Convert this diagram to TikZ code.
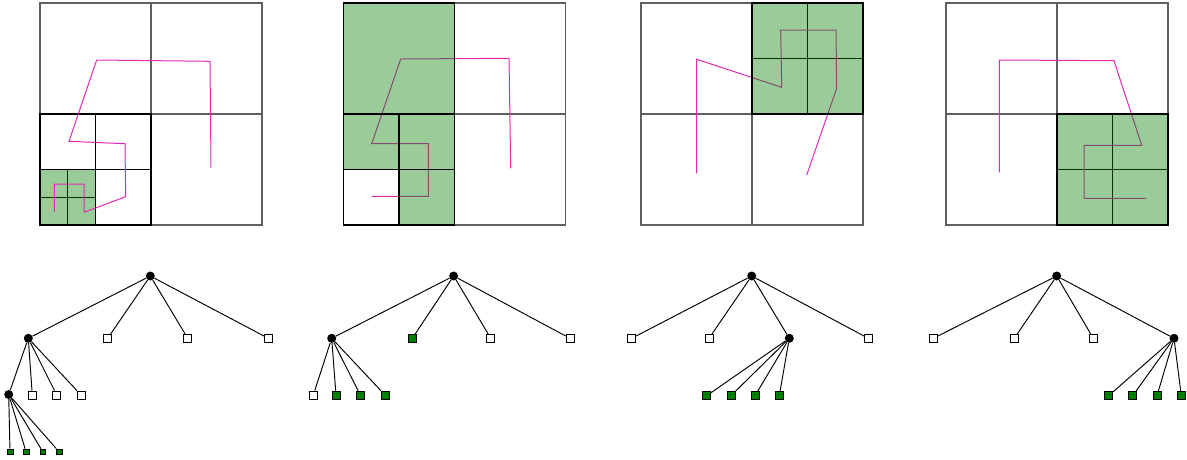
\documentclass[tikz,border=0pt]{standalone}
\definecolor{dgreen}{RGB}{0,128,0}
\definecolor{gridgray}{RGB}{95,95,95}
\definecolor{curvepink}{RGB}{228,40,184}
\tikzset{
  gridline/.style={draw=gridgray, line width=1.1pt},
  blackline/.style={draw=black, line width=1.25pt},
  greenfill/.style={fill=dgreen, fill opacity=0.4},
  curve/.style={draw=curvepink, line width=1pt, line join=miter},
  inner/.style={circle, fill=black, minimum size=9pt, inner sep=0pt},
  leaf/.style={rectangle, draw=black, fill=white, line width=0.8pt, minimum size=8pt, inner sep=0pt},
  gleaf/.style={rectangle, draw=black, fill=dgreen, line width=0.6pt, minimum size=8pt, inner sep=0pt},
  sgleaf/.style={rectangle, draw=black, fill=dgreen, line width=0.5pt, minimum size=5.5pt, inner sep=0pt},
  edge/.style={draw=black, line width=0.95pt}
}
\begin{document}
\begin{tikzpicture}[x=1pt,y=-1pt]
\useasboundingbox (0,0) rectangle (1187,459);

% ---------- Panel 1 ----------
\draw[gridline] (40,3) rectangle (262,225) (151,3) -- (151,225) (40,114) -- (262,114);
\draw[blackline] (40,114) rectangle (151,225) (95.5,114) -- (95.5,225) (40,169.5) -- (151,169.5);
\draw[blackline] (67.75,169.5) -- (67.75,225) (40,197.25) -- (95.5,197.25);
\fill[greenfill] (40,169.5) rectangle (95.5,225);
\draw[blackline] (40,169.5) rectangle (95.5,225);
\draw[curve] (54.3,211.7) -- (54.3,184) -- (84,184) -- (84,212.3) -- (125.7,196.7) -- (125,143.7) -- (69,141.3) -- (96.7,60) -- (210,61.3) -- (211,167.7);

% ---------- Panel 2 ----------
\draw[gridline] (343.5,3) rectangle (565.5,225) (454.5,3) -- (454.5,225) (343.5,114) -- (565.5,114);
\draw[blackline] (343.5,114) rectangle (454.5,225) (399,114) -- (399,225) (343.5,169.5) -- (454.5,169.5);
\draw[curve] (371.7,196.3) -- (428.3,196.3) -- (428.3,143.7) -- (371.7,143.7) -- (400.7,59) -- (509,58.3) -- (510.7,168.3);
\fill[greenfill] (343.5,3) rectangle (454.5,114) (343.5,114) rectangle (454.5,169.5) (399,169.5) rectangle (454.5,225);
\draw[blackline] (343.5,3) rectangle (454.5,114) (343.5,114) rectangle (454.5,225) (399,114) -- (399,225) (343.5,169.5) -- (454.5,169.5);

% ---------- Panel 3 ----------
\draw[gridline] (641,3) rectangle (863,225) (752,3) -- (752,225) (641,114) -- (863,114);
\draw[blackline] (807.5,3) -- (807.5,114) (752,58.5) -- (863,58.5);
\draw[curve] (696.7,173.3) -- (696.7,59.3) -- (781.7,87.3) -- (780.7,30) -- (836,30) -- (836.7,88.3) -- (806.7,175);
\fill[greenfill] (752,3) rectangle (863,114);
\draw[blackline] (752,3) rectangle (863,114);

% ---------- Panel 4 ----------
\draw[gridline] (946,3) rectangle (1168,225) (1057,3) -- (1057,225) (946,114) -- (1168,114);
\draw[blackline] (1112.5,114) -- (1112.5,225) (1057,169.5) -- (1168,169.5);
\draw[curve] (999.3,172.3) -- (999.3,60) -- (1114,60.7) -- (1141.7,145.3) -- (1084,145.3) -- (1084,198.3) -- (1146,198.3);
\fill[greenfill] (1057,114) rectangle (1168,225);
\draw[blackline] (1057,114) rectangle (1168,225);

% ---------- Tree 1 ----------
\node[inner] (r1) at (150.3,276) {};
\node[inner] (a1) at (28.3,338.3) {};
\node[leaf] (a2) at (107.7,338.3) {};
\node[leaf] (a3) at (187.7,338.3) {};
\node[leaf] (a4) at (268.3,338.3) {};
\node[inner] (b1) at (8.7,394.5) {};
\node[leaf] (b2) at (32.3,395) {};
\node[leaf] (b3) at (56.7,395) {};
\node[leaf] (b4) at (81,395) {};
\node[sgleaf] (c1) at (10,451.7) {};
\node[sgleaf] (c2) at (26,451.7) {};
\node[sgleaf] (c3) at (42.7,451.7) {};
\node[sgleaf] (c4) at (59,451.7) {};
\foreach \t in {a1,a2,a3,a4} \draw[edge] (r1) -- (\t);
\foreach \t in {b1,b2,b3,b4} \draw[edge] (a1) -- (\t);
\foreach \t in {c1,c2,c3,c4} \draw[edge] (b1) -- (\t);

% ---------- Tree 2 ----------
\node[inner] (r2) at (453.7,276) {};
\node[inner] (d1) at (331.7,338.3) {};
\node[gleaf] (d2) at (412.3,338.3) {};
\node[leaf] (d3) at (490.7,338.3) {};
\node[leaf] (d4) at (570,338.3) {};
\node[leaf] (e1) at (313.3,395) {};
\node[gleaf] (e2) at (336,395) {};
\node[gleaf] (e3) at (360.3,395) {};
\node[gleaf] (e4) at (385,395) {};
\foreach \t in {d1,d2,d3,d4} \draw[edge] (r2) -- (\t);
\foreach \t in {e1,e2,e3,e4} \draw[edge] (d1) -- (\t);

% ---------- Tree 3 ----------
\node[inner] (r3) at (751.7,276) {};
\node[leaf] (f1) at (631.7,338.3) {};
\node[leaf] (f2) at (709,338.3) {};
\node[inner] (f3) at (789.3,338.3) {};
\node[leaf] (f4) at (868.3,338.3) {};
\node[gleaf] (g1) at (706.7,395.7) {};
\node[gleaf] (g2) at (731,395.7) {};
\node[gleaf] (g3) at (755,395.7) {};
\node[gleaf] (g4) at (779.3,395.7) {};
\foreach \t in {f1,f2,f3,f4} \draw[edge] (r3) -- (\t);
\foreach \t in {g1,g2,g3,g4} \draw[edge] (f3) -- (\t);

% ---------- Tree 4 ----------
\node[inner] (r4) at (1056.7,276) {};
\node[leaf] (h1) at (933.3,338.3) {};
\node[leaf] (h2) at (1014.3,338.3) {};
\node[leaf] (h3) at (1093.3,338.3) {};
\node[inner] (h4) at (1174,338.3) {};
\node[gleaf] (k1) at (1108.7,395.7) {};
\node[gleaf] (k2) at (1132.7,395.7) {};
\node[gleaf] (k3) at (1157,395.7) {};
\node[gleaf] (k4) at (1181.3,395.7) {};
\foreach \t in {h1,h2,h3,h4} \draw[edge] (r4) -- (\t);
\foreach \t in {k1,k2,k3,k4} \draw[edge] (h4) -- (\t);
\end{tikzpicture}
\end{document}
